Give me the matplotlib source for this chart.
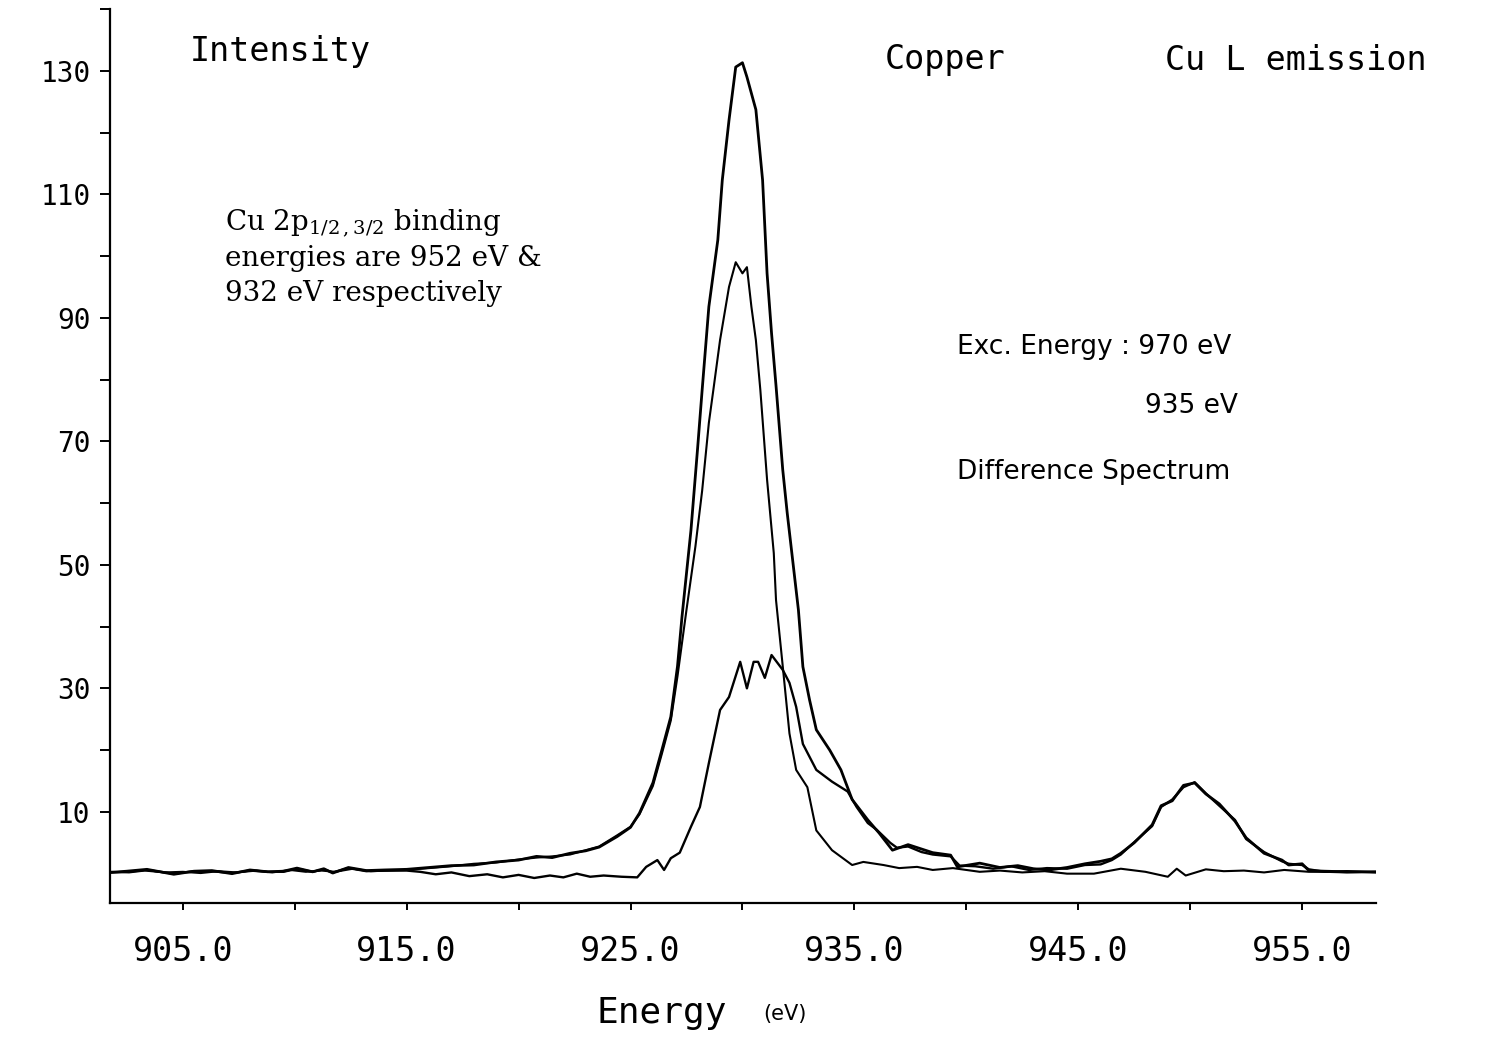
import matplotlib
matplotlib.use('Agg')
import matplotlib.pyplot as plt
from matplotlib import font_manager

# spectrum excited at 970 eV (both 2p1/2 and 2p3/2 ionised)
energy_970 = [901.8, 902.5, 903.4, 904.0, 904.6, 905.5, 906.3, 907.2, 908.0, 908.8,
              909.5, 910.1, 910.8, 911.3, 911.7, 912.4, 913.2, 914.0, 915.0, 916.0,
              917.0, 918.0, 919.0, 920.0, 920.8, 921.5, 922.3, 923.0, 923.6, 924.4,
              925.0, 925.4, 926.0, 926.4, 926.8, 927.1, 927.3, 927.7, 928.0, 928.2,
              928.5, 928.9, 929.1, 929.4, 929.7, 930.0, 930.2, 930.6, 930.9, 931.1,
              931.3, 931.5, 931.8, 932.0, 932.5, 932.7, 933.0, 933.3, 933.9, 934.4,
              934.9, 935.6, 936.1, 936.7, 937.4, 938.5, 939.3, 939.6, 940.6, 941.5,
              942.3, 943.0, 943.7, 944.5, 945.3, 946.0, 946.5, 946.9, 947.5, 948.3,
              948.7, 949.2, 949.7, 950.2, 950.7, 951.3, 952.0, 952.5, 953.3, 954.1,
              954.4, 955.0, 955.3, 956.0, 957.0, 958.3]
intensity_970 = [0.2, 0.4, 0.7, 0.3, -0.1, 0.4, 0.5, 0.0, 0.6, 0.3,
                 0.4, 0.9, 0.3, 0.8, 0.1, 1.0, 0.5, 0.6, 0.7, 1.0,
                 1.3, 1.4, 1.9, 2.2, 2.8, 2.6, 3.3, 3.7, 4.3, 6.0,
                 7.5, 9.8, 14.7, 20.0, 25.4, 33.6, 41.6, 55.6, 69.0, 78.3,
                 91.8, 102.6, 112.3, 122.0, 130.6, 131.3, 129.0, 123.7, 112.3, 97.2,
                 87.5, 79.0, 65.4, 58.4, 42.7, 33.5, 28.1, 23.3, 20.0, 16.8,
                 12.0, 8.7, 6.6, 3.8, 4.7, 3.4, 3.0, 1.1, 1.7, 1.0,
                 1.3, 0.8, 0.6, 1.0, 1.6, 2.0, 2.4, 3.3, 5.0, 7.9,
                 11.0, 11.8, 14.3, 14.7, 12.9, 11.3, 8.5, 5.8, 3.3, 2.2,
                 1.4, 1.6, 0.5, 0.4, 0.3, 0.3]

# spectrum excited at 935 eV (2p3/2 only)
energy_935 = [901.8, 902.6, 903.3, 904.2, 905.0, 905.8, 906.6, 907.4, 908.3, 909.0,
              909.8, 910.5, 911.2, 911.8, 912.6, 913.4, 914.2, 915.0, 916.0, 917.0,
              918.0, 919.0, 920.0, 920.8, 921.5, 922.3, 923.0, 923.6, 924.4, 925.0,
              925.4, 926.0, 926.4, 926.8, 927.1, 927.5, 927.9, 928.2, 928.5, 928.7,
              929.0, 929.4, 929.7, 930.0, 930.2, 930.4, 930.6, 930.8, 931.1, 931.4,
              931.5, 931.8, 932.1, 932.4, 932.9, 933.3, 934.0, 934.9, 935.4, 936.3,
              937.0, 937.8, 938.5, 939.4, 940.6, 941.5, 942.5, 943.5, 944.5, 945.7,
              946.9, 948.0, 949.0, 949.4, 949.8, 950.7, 951.5, 952.4, 953.3, 954.2,
              955.3, 956.0, 957.0, 958.3]
intensity_935 = [0.3, 0.2, 0.5, 0.2, 0.3, 0.1, 0.4, 0.2, 0.5, 0.2,
                 0.6, 0.3, 0.5, 0.3, 0.8, 0.4, 0.5, 0.6, 0.9, 1.2,
                 1.6, 1.8, 2.3, 2.6, 2.8, 3.1, 3.8, 4.4, 6.2, 7.6,
                 9.6, 14.2, 19.4, 24.8, 32.0, 42.7, 53.0, 62.0, 73.0, 78.3,
                 86.4, 95.0, 99.0, 97.2, 98.2, 91.8, 86.4, 78.3, 63.8, 51.9,
                 44.3, 33.6, 22.7, 16.8, 14.0, 7.0, 3.8, 1.4, 1.9, 1.4,
                 0.9, 1.1, 0.6, 0.9, 0.3, 0.5, 0.2, 0.4, 0.0, 0.0,
                 0.8, 0.3, -0.5, 0.8, -0.3, 0.7, 0.4, 0.5, 0.2, 0.6,
                 0.3, 0.3, 0.2, 0.3]

# difference spectrum
energy_diff = [901.8, 902.5, 903.4, 904.0, 904.6, 905.5, 906.3, 907.2, 908.0, 908.8,
               909.5, 910.1, 910.8, 911.3, 911.7, 912.4, 913.2, 914.0, 915.0, 915.6,
               916.3, 917.0, 917.8, 918.6, 919.3, 920.0, 920.7, 921.4, 922.0, 922.6,
               923.2, 923.8, 924.6, 925.3, 925.7, 926.2, 926.5, 926.8, 927.2, 927.7,
               928.1, 928.5, 929.0, 929.4, 929.9, 930.2, 930.5, 930.7, 931.0, 931.3,
               931.8, 932.1, 932.4, 932.7, 933.3, 934.0, 934.7, 935.1, 935.6, 936.0,
               936.6, 936.9, 937.4, 938.0, 938.5, 939.3, 939.7, 940.4, 941.2, 942.0,
               942.8, 943.6, 944.5, 945.3, 946.0, 946.5, 946.9, 947.5, 948.3, 948.7,
               949.2, 949.7, 950.2, 950.7, 951.3, 952.0, 952.5, 953.3, 954.1, 954.4,
               955.0, 955.3, 956.0, 957.0, 958.3]
intensity_diff = [0.2, 0.3, 0.6, 0.3, 0.0, 0.4, 0.4, 0.1, 0.5, 0.3,
                  0.3, 0.8, 0.3, 0.7, 0.2, 0.9, 0.4, 0.5, 0.5, 0.3,
                  -0.1, 0.2, -0.4, -0.1, -0.6, -0.2, -0.7, -0.3, -0.6, 0.0,
                  -0.5, -0.3, -0.5, -0.6, 1.1, 2.2, 0.6, 2.5, 3.4, 7.6,
                  10.8, 17.9, 26.5, 28.6, 34.3, 30.0, 34.3, 34.3, 31.7, 35.4,
                  33.0, 30.9, 27.0, 21.0, 16.8, 14.9, 13.3, 10.8, 8.2, 7.1,
                  5.0, 4.2, 4.4, 3.5, 3.1, 2.8, 1.3, 1.2, 0.8, 1.2,
                  0.6, 0.9, 0.8, 1.4, 1.5, 2.2, 3.1, 5.1, 7.7, 10.8,
                  12.0, 14.0, 14.8, 13.0, 11.0, 8.7, 5.6, 3.5, 2.0, 1.6,
                  1.4, 0.7, 0.3, 0.4, 0.2]

x_major = [905, 915, 925, 935, 945, 955]
x_minor = [910, 920, 930, 940, 950]
y_major = [10, 30, 50, 70, 90, 110, 130]
y_minor = [20, 40, 60, 80, 100, 120, 140]

W, H = 1485, 1037
plt.rcParams['font.family'] = 'DejaVu Sans Mono'
plt.rcParams['mathtext.fontset'] = 'dejavuserif'

available = {f.name for f in font_manager.fontManager.ttflist}
if 'Liberation Sans Narrow' in available:
    narrow_font, narrow_size = 'Liberation Sans Narrow', 24
else:
    narrow_font, narrow_size = 'DejaVu Sans', 19


def px(x, y):
    # pixel position in the reference -> figure fraction
    return x / W, 1 - y / H


fig = plt.figure(figsize=(W / 100, H / 100), dpi=100)
ax = fig.add_axes([110 / W, 1 - 903 / H, (1376 - 110) / W, (903 - 9) / H])

ax.plot(energy_970, intensity_970, color='black', lw=2.0)
ax.plot(energy_935, intensity_935, color='black', lw=1.5)
ax.plot(energy_diff, intensity_diff, color='black', lw=1.7)

ax.set_xlim(901.75, 958.3)
ax.set_ylim(-4.75, 140)

ax.spines[['top', 'right']].set_visible(False)
for side in ['left', 'bottom']:
    ax.spines[side].set_linewidth(1.6)

ax.set_xticks(x_major)
ax.set_xticklabels([f'{v:.1f}' for v in x_major])
ax.set_xticks(x_minor, minor=True)
ax.set_yticks(y_major)
ax.set_yticklabels([str(v) for v in y_major])
ax.set_yticks(y_minor, minor=True)
ax.tick_params(axis='x', which='both', direction='out', length=5, width=1.4,
               pad=18, labelsize=24)
ax.tick_params(axis='y', which='both', direction='out', length=7, width=1.4,
               pad=7, labelsize=20)

# plotter style titles
fig.text(*px(280, 52), 'Intensity', fontsize=24, ha='center', va='center')
fig.text(*px(945, 60), 'Copper', fontsize=24, ha='center', va='center')
fig.text(*px(1296, 60), 'Cu L emission', fontsize=24, ha='center', va='center')
fig.text(*px(662, 1023), 'Energy', fontsize=26, ha='center', va='baseline')
fig.text(*px(785, 1020), '(eV)', family=narrow_font, fontsize=15,
         ha='center', va='baseline')

# annotation
serif = dict(family='DejaVu Serif', fontsize=20, ha='left', va='baseline')
fig.text(*px(225, 230), r'Cu 2p$_{1/2\,,3/2}$ binding', **serif)
fig.text(*px(225, 266), 'energies are 952 eV &', **serif)
fig.text(*px(225, 301), '932 eV respectively', **serif)

# legend-like labels
narrow = dict(family=narrow_font, fontsize=narrow_size, va='baseline')
fig.text(*px(957, 354), 'Exc. Energy : 970 eV', ha='left', **narrow)
fig.text(*px(1238, 413), '935 eV', ha='right', **narrow)
fig.text(*px(957, 479), 'Difference Spectrum', ha='left', **narrow)

fig.savefig('out.png', dpi=100)
